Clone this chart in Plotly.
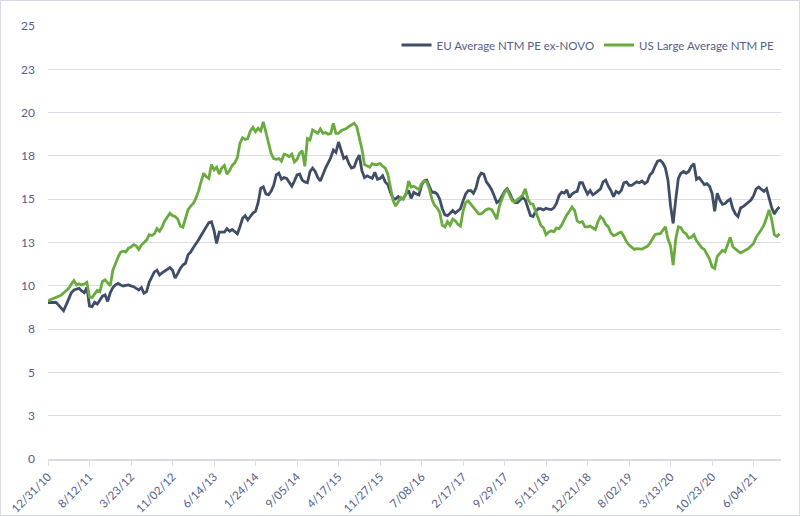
import pandas as pd
import plotly.graph_objects as go

start_date = "2010-12-31"
n_points = 283
dates = pd.date_range(start_date, periods=n_points, freq="14D")

eu_pe = [
    9.03, 9.03, 9.03, 9.05, 8.9, 8.7, 8.56, 8.9, 9.25, 9.6,
    9.76, 9.8, 9.85, 9.7, 9.6, 9.91, 8.83, 8.8, 9.05, 8.95,
    9.2, 9.4, 9.47, 9.1, 9.6, 9.9, 10.05, 10.14, 10.05, 9.99,
    10.02, 10.05, 10.0, 9.95, 9.85, 9.76, 9.9, 9.57, 9.66, 10.2,
    10.5, 10.8, 10.9, 10.62, 10.75, 10.85, 10.95, 11.05, 10.9, 10.45,
    10.7, 11.0, 11.2, 11.3, 11.8, 11.95, 12.2, 12.4, 12.64, 12.9,
    13.15, 13.4, 13.65, 13.7, 13.2, 12.45, 13.1, 13.1, 13.1, 13.3,
    13.15, 13.25, 13.15, 13.0, 13.41, 13.9, 14.05, 13.8, 14.0, 14.2,
    14.3, 14.8, 15.63, 15.72, 15.3, 15.25, 15.45, 15.8, 16.4, 16.5,
    16.15, 16.25, 16.2, 16.0, 15.75, 16.05, 16.4, 16.45, 16.1, 16.0,
    15.95, 16.59, 16.8, 16.6, 16.25, 16.05, 16.45, 16.8, 17.1, 17.4,
    17.84, 17.7, 18.3, 17.8, 17.36, 17.45, 17.05, 16.8, 16.85, 17.26,
    17.55, 16.65, 16.25, 16.35, 16.25, 16.2, 16.55, 16.15, 16.2, 16.35,
    16.0, 15.85, 15.4, 15.05, 15.0, 15.15, 15.0, 15.05, 15.3, 15.5,
    15.05, 15.4, 15.3, 15.25, 15.8, 16.05, 16.1, 15.75, 15.4, 15.4,
    15.3, 15.0, 14.45, 14.1, 14.05, 14.19, 14.35, 14.2, 14.3, 14.45,
    14.9, 15.3, 15.5, 15.5, 15.34, 15.65, 16.25, 16.5, 16.45, 16.0,
    15.8, 15.55, 15.2, 14.8, 14.9, 15.2, 15.45, 15.6, 15.35, 15.0,
    14.8, 14.8, 14.95, 15.1, 14.95, 14.5, 14.05, 14.0, 14.3, 14.45,
    14.45, 14.38, 14.47, 14.42, 14.4, 14.5, 14.75, 15.2, 15.4, 15.35,
    15.53, 15.1, 15.3, 15.4, 15.45, 15.95, 15.95, 15.6, 15.3, 15.5,
    15.25, 15.35, 15.45, 15.6, 16.0, 16.1, 15.75, 15.5, 15.15, 15.45,
    15.35, 15.5, 15.95, 16.0, 15.8, 15.8, 15.9, 16.0, 15.95, 16.05,
    15.9, 16.0, 16.4, 16.55, 16.9, 17.2, 17.25, 17.1, 16.8, 16.1,
    14.6, 13.6, 15.0, 16.2, 16.5, 16.6, 16.5, 16.6, 16.9, 17.05,
    16.15, 16.25, 16.05, 15.85, 15.9, 15.75, 15.35, 14.3, 15.34, 14.95,
    14.7, 14.75, 14.9, 15.0, 14.45, 14.15, 14.0, 14.5, 14.57, 14.7,
    14.8, 14.95, 15.2, 15.6, 15.7, 15.6, 15.45, 15.6, 15.0, 14.5,
    14.15, 14.4, 14.55,
]

us_pe = [
    9.14, 9.2, 9.28, 9.32, 9.37, 9.45, 9.58, 9.72, 9.85, 10.1,
    10.3, 10.05, 10.12, 10.05, 10.1, 10.2, 9.35, 9.33, 9.55, 9.74,
    9.66, 10.25, 10.35, 10.15, 10.0, 10.9, 11.3, 11.65, 11.95, 12.0,
    11.95, 12.17, 12.24, 12.38, 12.3, 12.1, 12.35, 12.5, 12.64, 12.95,
    12.9, 13.0, 13.3, 13.15, 13.4, 13.75, 13.95, 14.19, 14.05, 14.0,
    13.85, 13.45, 13.38, 13.95, 14.4, 14.6, 14.76, 15.05, 15.45, 16.0,
    16.5, 16.3, 16.2, 17.0, 16.7, 16.85, 16.45, 16.8, 16.95, 16.45,
    16.65, 16.95, 17.1, 17.4, 18.23, 18.55, 18.45, 18.5, 18.95, 19.15,
    18.9, 19.1, 18.95, 19.47, 18.85, 18.2, 17.65, 17.35, 17.3, 17.35,
    17.2, 17.6, 17.55, 17.45, 17.6, 17.15, 17.3, 17.65, 17.8, 16.9,
    18.5, 18.42, 19.0, 18.9, 18.8, 19.05, 18.8, 18.85, 18.75, 18.8,
    19.38, 18.8, 18.8, 18.95, 19.0, 19.08, 19.2, 19.3, 19.38, 19.2,
    18.6, 17.9, 17.0, 16.9, 16.85, 17.05, 17.0, 17.0, 17.07, 16.9,
    16.8, 16.45, 15.6, 14.95, 14.6, 14.85, 15.1, 15.0, 15.3, 16.05,
    15.7, 15.75, 15.65, 15.55, 15.9, 16.05, 16.0, 15.6, 15.0, 14.65,
    14.5, 14.25, 13.5, 13.4, 13.7, 13.5, 13.85, 13.75, 13.55, 13.45,
    14.3, 14.8, 14.9, 14.7, 14.57, 14.35, 14.15, 14.15, 14.3, 14.4,
    14.45, 14.4, 14.15, 13.85, 14.6, 15.05, 15.4, 15.55, 15.25, 14.9,
    14.85, 14.95, 15.1, 15.25, 15.6, 15.0, 14.75, 14.7, 14.3, 13.8,
    13.48, 13.35, 12.95, 13.1, 13.18, 13.12, 13.33, 13.3, 13.5, 13.8,
    14.1, 14.3, 14.55, 14.35, 13.75, 13.65, 13.7, 13.4, 13.4, 13.45,
    13.35, 13.25, 13.7, 14.0, 13.85, 13.55, 13.4, 13.05, 12.9, 12.95,
    13.05, 13.1, 12.85, 12.55, 12.35, 12.2, 12.1, 12.15, 12.12, 12.12,
    12.2, 12.28, 12.45, 12.7, 12.95, 13.0, 13.0, 13.2, 13.4, 12.7,
    12.3, 11.2, 12.7, 13.4, 13.35, 13.1, 13.0, 12.75, 12.8, 12.95,
    12.6, 12.4, 12.2, 12.1, 11.85, 11.55, 11.1, 11.0, 11.7, 11.9,
    12.05, 11.97, 12.35, 12.8, 12.25, 12.1, 12.0, 11.9, 11.97, 12.05,
    12.15, 12.3, 12.45, 12.8, 13.0, 13.25, 13.5, 13.95, 14.38, 13.8,
    12.95, 12.85, 13.0,
]

series_names = ["EU Average NTM PE ex-NOVO", "US Large Average NTM PE"]

x_tick_dates = [
    "2010-12-31", "2011-08-12", "2012-03-23", "2012-11-02", "2013-06-14",
    "2014-01-24", "2014-09-05", "2015-04-17", "2015-11-27", "2016-07-08",
    "2017-02-17", "2017-09-29", "2018-05-11", "2018-12-21", "2019-08-02",
    "2020-03-13", "2020-10-23", "2021-06-04",
]
x_tick_labels = [
    "12/31/10", "8/12/11", "3/23/12", "11/02/12", "6/14/13",
    "1/24/14", "9/05/14", "4/17/15", "11/27/15", "7/08/16",
    "2/17/17", "9/29/17", "5/11/18", "12/21/18", "8/02/19",
    "3/13/20", "10/23/20", "6/04/21",
]
y_tick_values = [0, 2.5, 5, 7.5, 10, 12.5, 15, 17.5, 20, 22.5, 25]
y_tick_labels = ["0", "3", "5", "8", "10", "13", "15", "18", "20", "23", "25"]

# ---- figure ----
text_color = "#55618a"
grid_color = "#dcdce6"
font_family = "Lato, 'Open Sans', sans-serif"

fig = go.Figure()
fig.add_trace(go.Scatter(
    x=dates, y=eu_pe, mode="lines", name=series_names[0],
    line=dict(color="#3f4d66", width=2.8),
))
fig.add_trace(go.Scatter(
    x=dates, y=us_pe, mode="lines", name=series_names[1],
    line=dict(color="#6aab3f", width=2.8),
))

W, H = 800, 516
ml, mr, mt, mb = 48, 19, 26, 57
pw, ph = W - ml - mr, H - mt - mb

fig.update_layout(
    width=W, height=H,
    margin=dict(l=ml, r=mr, t=mt, b=mb, pad=0, autoexpand=False),
    paper_bgcolor="white", plot_bgcolor="white",
    font=dict(family=font_family, size=12, color=text_color),
    showlegend=True,
    legend=dict(
        orientation="h", x=0.998, xanchor="right",
        y=1 - (45 - mt) / ph, yanchor="middle",
        bgcolor="rgba(0,0,0,0)", font=dict(size=11.5, color=text_color),
        itemwidth=30, tracegroupgap=0,
    ),
    xaxis=dict(
        type="date", automargin=False,
        range=["2010-12-31", "2021-10-30"],
        tickmode="array", tickvals=x_tick_dates, ticktext=x_tick_labels,
        tickangle=-45, tickfont=dict(size=11.5, color=text_color),
        showgrid=False, showline=True, linecolor=grid_color, linewidth=1.5,
        ticks="outside", ticklen=5, tickcolor=grid_color, tickwidth=1,
        zeroline=False,
    ),
    yaxis=dict(
        range=[0, 25], automargin=False,
        tickmode="array", tickvals=y_tick_values, ticktext=y_tick_labels,
        tickfont=dict(size=12, color=text_color),
        showgrid=True, gridcolor=grid_color, gridwidth=1.2,
        zeroline=False, showline=False, ticks="", ticklabelstandoff=12,
    ),
    shapes=[dict(
        type="rect", xref="paper", yref="paper",
        x0=(0.5 - ml) / pw, x1=(W - 0.5 - ml) / pw,
        y0=-(mb - 0.5) / ph, y1=1 + (mt - 0.5) / ph,
        line=dict(color="#d9d9e3", width=1), fillcolor="rgba(0,0,0,0)",
        layer="below",
    )],
)

fig.write_html(
    "out.html",
    config={"displayModeBar": False},
    post_script="document.body.style.margin='0';document.body.style.overflow='hidden';",
)
